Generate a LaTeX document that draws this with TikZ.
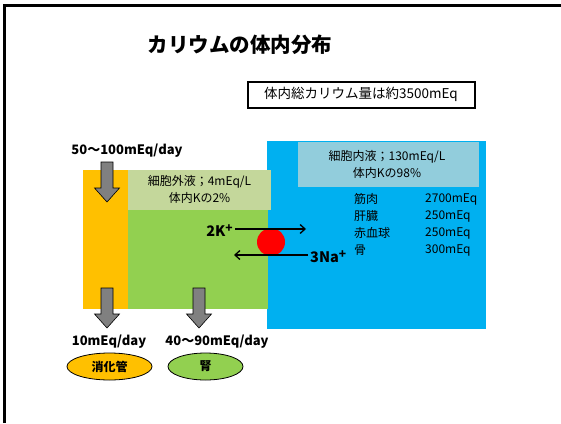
\documentclass[tikz,border=0pt]{standalone}
\usepackage{fontspec}
\usetikzlibrary{shapes.geometric,arrows.meta}
\setmainfont{Noto Sans CJK JP}
\begin{document}
\begin{tikzpicture}[x=1pt,y=-1pt,
  lab/.style={inner sep=0pt,font=\fontsize{12}{14}\selectfont},
  bl/.style={inner sep=0pt,font=\bfseries\fontsize{13}{15}\selectfont},
  ion/.style={inner sep=0pt,font=\bfseries\fontsize{14.5}{16}\selectfont},
  organ/.style={ellipse,draw=black,line width=0.8pt,minimum width=85pt,minimum height=27pt,inner sep=0pt,font=\bfseries\fontsize{12}{14}\selectfont},
  flow/.style={-{Straight Barb[length=5pt,width=9pt,line width=1.3pt]},line width=1.4pt},
  grayarr/.style={fill={rgb,255:red,128;green,128;blue,128},draw=black,line width=0.6pt}]
\useasboundingbox (0,0) rectangle (561,423);
\fill[white] (0,0) rectangle (561,423);
% slide frame
\draw[line width=3pt] (4.5,423) -- (4.5,5.5) -- (561,5.5);
% title
\node[inner sep=0pt,font=\bfseries\fontsize{20.5}{24}\selectfont] (title) at (240,45) {カリウムの体内分布};
\node[draw=black,line width=2pt,minimum width=227pt,minimum height=26pt,inner sep=0pt,font=\fontsize{13.5}{15}\selectfont] (total) at (361,94.5) {体内総カリウム量は約3500mEq};
% compartments
\fill[fill={rgb,255:red,0;green,176;blue,240}] (267,141) rectangle (486,329);
\fill[fill={rgb,255:red,146;green,208;blue,80}] (128,170) rectangle (268,309);
\fill[fill={rgb,255:red,255;green,192;blue,0}] (83,170) rectangle (128,309);
\fill[fill={rgb,255:red,196;green,215;blue,155}] (128,170) rectangle (271,210);
\fill[fill={rgb,255:red,146;green,205;blue,220}] (298,142) rectangle (479,187);
\node[lab] (ecf1) at (199.5,182) {細胞外液；4mEq/L};
\node[lab] (ecf2) at (199.5,198) {体内Kの2\%};
\node[lab] (icf1) at (387,157) {細胞内液；130mEq/L};
\node[lab] (icf2) at (387,173) {体内Kの98\%};
% list
\node[lab,anchor=west] (m1) at (354,199) {筋肉};
\node[lab,anchor=west] (m2) at (354,216) {肝臓};
\node[lab,anchor=west] (m3) at (354,233) {赤血球};
\node[lab,anchor=west] (m4) at (354,250) {骨};
\node[lab,anchor=west] (v1) at (425,199) {2700mEq};
\node[lab,anchor=west] (v2) at (425,216) {250mEq};
\node[lab,anchor=west] (v3) at (425,233) {250mEq};
\node[lab,anchor=west] (v4) at (425,250) {300mEq};
% pump
\node[circle,fill=red,minimum size=28pt,inner sep=0pt] (pump) at (271,242) {};
\coordinate (k1) at (235,229);
\coordinate (k2) at (306,229);
\coordinate (n1) at (308,255);
\coordinate (n2) at (234,255);
\draw[flow] (k1) -- (k2);
\draw[flow] (n1) -- (n2);
\node[ion,anchor=east] (kion) at (233,231) {2K\raisebox{4pt}{\fontsize{12}{12}\selectfont +}};
\node[ion,anchor=west] (naion) at (310,257) {3Na\raisebox{4pt}{\fontsize{12}{12}\selectfont +}};
% flows
\tikzset{gray arrow/.pic={\filldraw[grayarr]
   (-6,0) -- (6,0) -- (6,26) -- (12.5,26) -- (0,40) -- (-12.5,26) -- (-6,26) -- cycle;}}
\node[bl] (intake) at (127,151) {50～100mEq/day};
\pic at (107,162) {gray arrow};
\pic at (107,288) {gray arrow};
\pic at (199,288) {gray arrow};
\node[bl] (gi) at (109,342) {10mEq/day};
\node[bl] (ren) at (217,342) {40～90mEq/day};
\node[organ,fill={rgb,255:red,255;green,192;blue,0}] (gut) at (109.5,366.5) {消化管};
\node[organ,fill={rgb,255:red,146;green,208;blue,80},minimum width=75pt] (kid) at (205.5,366.5) {腎};
\end{tikzpicture}
\end{document}
